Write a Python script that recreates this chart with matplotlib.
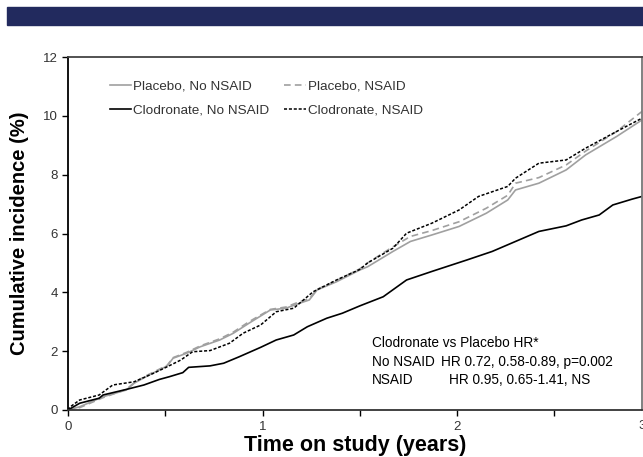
import matplotlib
matplotlib.use("Agg")
import matplotlib.pyplot as plt
from matplotlib.patches import Rectangle
from matplotlib.ticker import MultipleLocator

# cumulative incidence (%)
t_plc_no = [0, 0.06, 0.18, 0.30, 0.34, 0.40, 0.51, 0.54, 0.61, 0.68, 0.78, 0.85, 0.93,
            1.04, 1.12, 1.19, 1.24, 1.28, 1.38, 1.50, 1.54, 1.67, 1.76, 1.87, 2.01, 2.15,
            2.26, 2.30, 2.42, 2.56, 2.66, 2.82, 2.95]
y_plc_no = [0, 0.11, 0.45, 0.68, 0.91, 1.13, 1.50, 1.76, 1.93, 2.15, 2.38, 2.61, 2.95,
            3.40, 3.46, 3.63, 3.74, 4.08, 4.36, 4.76, 4.87, 5.39, 5.73, 5.95, 6.24, 6.69,
            7.14, 7.48, 7.71, 8.16, 8.67, 9.30, 9.86]

t_plc_ns = [0, 0.06, 0.18, 0.30, 0.34, 0.40, 0.51, 0.54, 0.61, 0.68, 0.78, 0.85, 0.93,
            1.04, 1.12, 1.19, 1.24, 1.28, 1.38, 1.50, 1.54, 1.67, 1.76, 1.87, 2.01, 2.15,
            2.26, 2.30, 2.42, 2.56, 2.66, 2.82, 2.95]
y_plc_ns = [0, 0.08, 0.42, 0.70, 0.93, 1.16, 1.52, 1.78, 1.96, 2.18, 2.42, 2.65, 3.00,
            3.42, 3.50, 3.68, 3.78, 4.10, 4.40, 4.80, 5.00, 5.55, 5.90, 6.10, 6.40, 6.86,
            7.30, 7.71, 7.90, 8.33, 8.80, 9.47, 10.15]

t_clo_no = [0, 0.06, 0.16, 0.18, 0.30, 0.39, 0.47, 0.52, 0.59, 0.62, 0.73, 0.80, 0.88,
            0.99, 1.07, 1.16, 1.23, 1.33, 1.41, 1.50, 1.62, 1.74, 1.87, 2.05, 2.18, 2.30,
            2.42, 2.56, 2.64, 2.73, 2.80, 2.90, 2.95]
y_clo_no = [0, 0.23, 0.40, 0.51, 0.70, 0.85, 1.04, 1.13, 1.27, 1.45, 1.50, 1.59, 1.81,
            2.13, 2.38, 2.55, 2.83, 3.12, 3.29, 3.54, 3.85, 4.42, 4.71, 5.10, 5.39, 5.73,
            6.07, 6.26, 6.46, 6.63, 6.97, 7.17, 7.26]

t_clo_ns = [0, 0.01, 0.06, 0.16, 0.23, 0.34, 0.44, 0.51, 0.58, 0.64, 0.73, 0.83, 0.90,
            0.99, 1.07, 1.16, 1.26, 1.38, 1.50, 1.54, 1.67, 1.74, 1.87, 2.01, 2.11, 2.26,
            2.30, 2.42, 2.56, 2.66, 2.82, 2.95]
y_clo_ns = [0, 0.10, 0.34, 0.51, 0.85, 0.96, 1.25, 1.47, 1.70, 1.98, 2.02, 2.27, 2.61,
            2.89, 3.34, 3.46, 4.02, 4.42, 4.78, 5.00, 5.50, 6.01, 6.35, 6.80, 7.26, 7.60,
            7.88, 8.39, 8.50, 8.90, 9.47, 9.92]

legend_labels = ["Placebo, No NSAID", "Placebo, NSAID",
                 "Clodronate, No NSAID", "Clodronate, NSAID"]
hr_title = "Clodronate vs Placebo HR*"
hr_groups = ["No NSAID", "NSAID"]
hr_values = ["HR 0.72, 0.58-0.89, p=0.002", "HR 0.95, 0.65-1.41, NS"]

plt.rcParams['font.family'] = ['Liberation Sans', 'DejaVu Sans']

fig = plt.figure(figsize=(6.43, 4.57), dpi=100)
fig.patches.append(Rectangle((7 / 643, 1 - 25 / 457), 636 / 643, 18 / 457,
                             transform=fig.transFigure, color='#222a5e', zorder=0))

ax = fig.add_axes([68 / 643, 1 - 410 / 457, 574 / 643, 353 / 457])

gray = '#a0a0a0'
l1, = ax.plot(t_plc_no, y_plc_no, color=gray, lw=1.2)
l2, = ax.plot(t_plc_ns, y_plc_ns, color=gray, lw=1.2, dashes=(4, 2.5))
l3, = ax.plot(t_clo_no, y_clo_no, color='black', lw=1.2)
l4, = ax.plot(t_clo_ns, y_clo_ns, color='black', lw=1.1, dashes=(2, 1.2))

ax.set_xlim(0, 2.95)
ax.set_ylim(0, 12)
ax.set_xticks([0, 1, 2])
ax.xaxis.set_minor_locator(MultipleLocator(0.5))
ax.set_yticks(range(0, 13, 2))
ax.tick_params(axis='both', labelsize=9.5, labelcolor='#333333', direction='out',
               length=4, width=1)
ax.tick_params(axis='x', which='minor', length=4, width=1)
ax.tick_params(axis='x', pad=4)
ax.text(2.95, -0.028, "3", transform=ax.get_xaxis_transform(), ha='center', va='top',
        fontsize=9.5, color='#333333', clip_on=False)

ax.spines['left'].set_color('black')
ax.spines['bottom'].set_color('#333333')
ax.spines['top'].set_color('#444444')
ax.spines['right'].set_color('#777777')
for s in ax.spines.values():
    s.set_linewidth(1.3)

ax.set_ylabel("Cumulative incidence (%)", fontsize=14.5, fontweight='bold', labelpad=10)
ax.set_xlabel("Time on study (years)", fontsize=15.5, fontweight='bold', labelpad=1,
              family=['Liberation Sans Narrow', 'Liberation Sans'])

# row-major order: placebo row first, clodronate row second
leg = ax.legend([l1, l3, l2, l4],
                [legend_labels[0], legend_labels[2], legend_labels[1], legend_labels[3]],
                ncol=2, loc='upper left', bbox_to_anchor=(0.063, 0.95), frameon=False,
                fontsize=9.7, handlelength=1.6, handletextpad=0.15, columnspacing=1.1,
                labelspacing=0.85, borderaxespad=0)
for txt in leg.get_texts():
    txt.set_color('#333333')

ax.text(0.529, 0.19, hr_title, transform=ax.transAxes, fontsize=9.8, va='center')
for i, (g, v) in enumerate(zip(hr_groups, hr_values)):
    y = 0.19 - (i + 1) * 0.053
    ax.text(0.529, y, g, transform=ax.transAxes, fontsize=9.8, va='center')
    ax.text(0.650 + i * 0.014, y, v, transform=ax.transAxes, fontsize=9.8, va='center')

fig.savefig("out.png", dpi=100)
